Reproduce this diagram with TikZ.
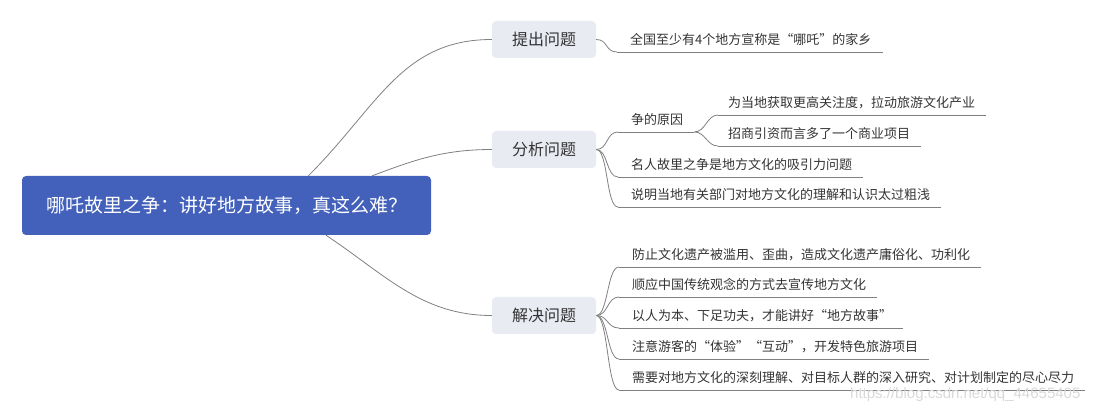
\documentclass[tikz,border=0pt]{standalone}
\usepackage{fontspec}
\newfontfamily\cjk{Noto Sans CJK SC}
\newfontfamily\wmfont{Liberation Sans}
\usetikzlibrary{positioning,calc}
\definecolor{rootblue}{HTML}{4361BB}
\definecolor{topicfill}{HTML}{E9EBF3}
\definecolor{branchgray}{HTML}{808080}
\definecolor{textdark}{HTML}{333333}

\begin{document}
\begin{tikzpicture}[
  x=1pt,y=-1pt,
  rootbox/.style={rectangle,rounded corners=4pt,fill=rootblue,text=white,minimum width=409pt,minimum height=59pt,inner sep=0pt,font=\cjk\fontsize{19}{22}\selectfont},
  topic/.style={rectangle,rounded corners=4pt,fill=topicfill,text=textdark,minimum width=104pt,minimum height=37pt,inner sep=0pt,font=\cjk\fontsize{16}{18}\selectfont},
  leaf/.style={anchor=south west,inner xsep=0pt,inner ysep=7.5pt,text depth=0pt,text=textdark,font=\cjk\fontsize{13}{15}\selectfont,execute at begin node={\hspace*{#1}},execute at end node={\hspace*{11pt}}},
  leaf/.default=13pt,
  branch/.style={draw=branchgray,line width=0.8pt},
  watermark/.style={anchor=base west,inner sep=0pt,text=gray!30,font=\wmfont\fontsize{15}{17}\selectfont},
]
\useasboundingbox (0,0) rectangle (1103,411);

% === ROOT ===
\node[rootbox] (root) at (226.5,205.5) {哪吒故里之争：讲好地方故事，真这么难？};

% === MAIN TOPICS ===
\node[topic] (tichu) at (544,39.5) {提出问题};
\node[topic] (fenxi) at (544,149.5) {分析问题};
\node[topic] (jiejue) at (544,315.5) {解决问题};

% Branch roots on the box edges
\coordinate (r1) at ($(root.north west)!0.70!(root.north east)$);
\coordinate (r2) at ($(root.north west)!0.856!(root.north east)$);
\coordinate (r3) at ($(root.south west)!0.743!(root.south east)$);

\draw[branch] (r1) .. controls +(70,-70) and +(-90,0) .. (tichu.west);
\draw[branch] (r2) .. controls +(40,-15) and +(-50,0) .. (fenxi.west);
\draw[branch] (r3) .. controls +(60,40) and +(-70,0) .. (jiejue.west);

% === 提出问题 ===
\node[leaf] (a1) at (617,52) {全国至少有4个地方宣称是“哪吒”的家乡};

% === 分析问题 ===
\node[leaf] (b1) at (618,132) {争的原因};
\node[leaf=10pt] (b11) at (718,115) {为当地获取更高关注度，拉动旅游文化产业};
\node[leaf=10pt] (b12) at (718,146) {招商引资而言多了一个商业项目};
\node[leaf] (b2) at (618,177) {名人故里之争是地方文化的吸引力问题};
\node[leaf] (b3) at (618,207) {说明当地有关部门对地方文化的理解和认识太过粗浅};

% === 解决问题 ===
\node[leaf] (c1) at (619,267) {防止文化遗产被滥用、歪曲，造成文化遗产庸俗化、功利化};
\node[leaf] (c2) at (619,297) {顺应中国传统观念的方式去宣传地方文化};
\node[leaf] (c3) at (619,328) {以人为本、下足功夫，才能讲好“地方故事”};
\node[leaf] (c4) at (619,359) {注意游客的“体验”“互动”，开发特色旅游项目};
\node[leaf] (c5) at (619,390) {需要对地方文化的深刻理解、对目标人群的深入研究、对计划制定的尽心尽力};

% Underlines
\foreach \n in {a1,b1,b11,b12,b2,b3,c1,c2,c3,c4,c5}
  \draw[branch] (\n.south west) -- (\n.south east);

% Connectors topic -> leaves
\draw[branch] (tichu.east) .. controls +(12,0) and +(-12,0) .. (a1.south west);
\foreach \n in {b1,b2,b3}
  \draw[branch] (fenxi.east) .. controls +(12,0) and +(-12,0) .. (\n.south west);
\foreach \n in {b11,b12}
  \draw[branch] (b1.south east) .. controls +(11,0) and +(-11,0) .. (\n.south west);
\foreach \n in {c1,c2,c3,c4,c5}
  \draw[branch] (jiejue.east) .. controls +(12,0) and +(-12,0) .. (\n.south west);

% Watermark
\node[watermark] (wm) at (850,399) {https://blog.csdn.net/qq\_44655405};

\end{tikzpicture}
\end{document}
